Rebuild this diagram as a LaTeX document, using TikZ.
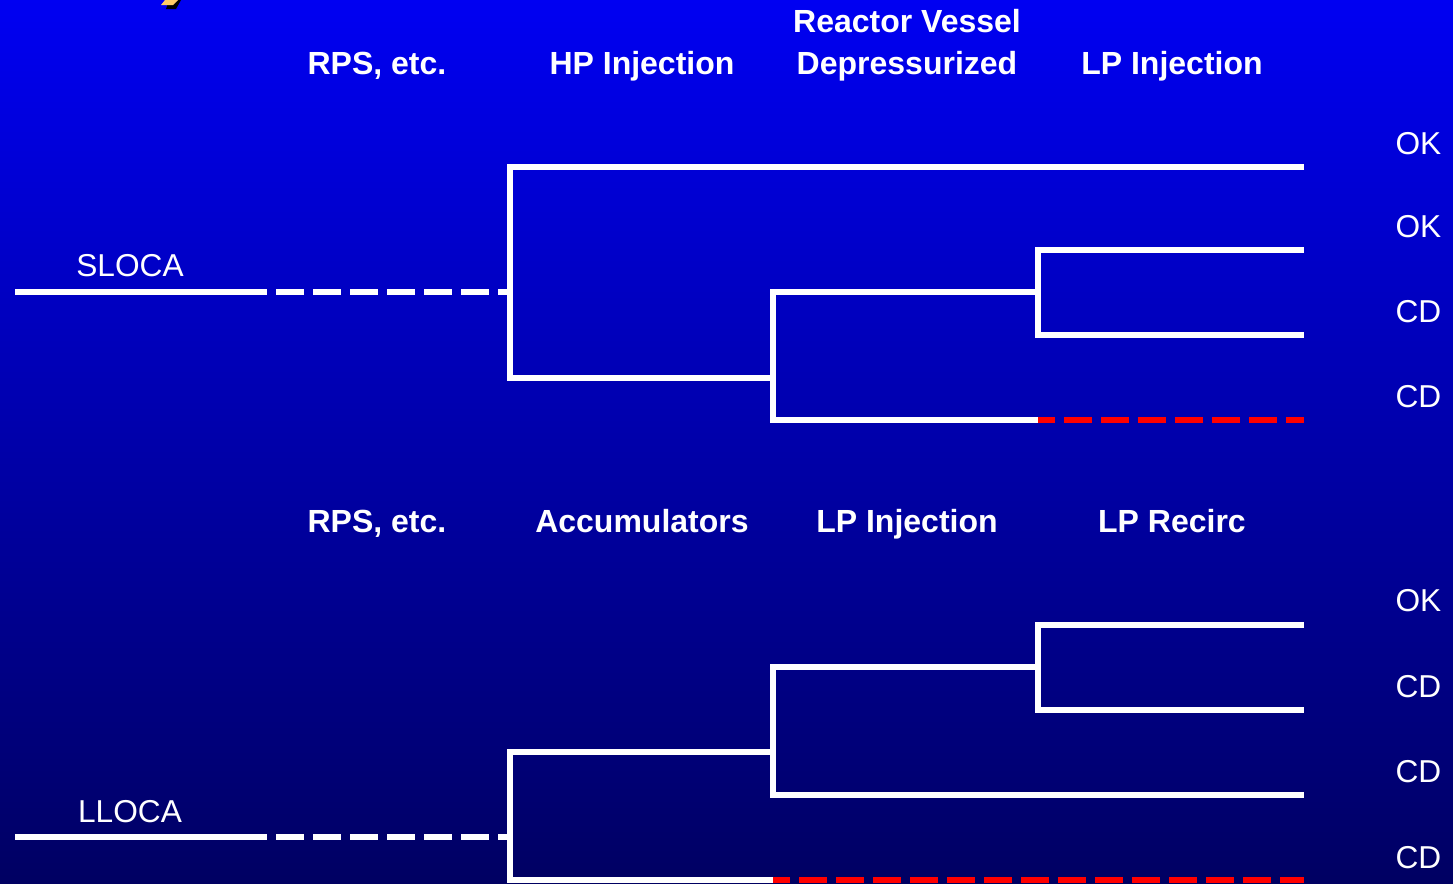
\documentclass[tikz,border=0pt]{standalone}
\usepackage{fontspec}
\setmainfont{Liberation Sans}
\usepackage{xcolor}
\usepackage{tikz}
\definecolor{treetop}{RGB}{0,0,242}
\definecolor{treemid}{RGB}{0,0,190}
\definecolor{treebot}{RGB}{0,0,98}
\definecolor{treered}{RGB}{255,0,0}
\definecolor{titlegold}{RGB}{255,204,102}

\begin{document}
\begin{tikzpicture}[x=0.01cm, y=-0.01cm,
  branch/.style={line width=1.7pt, white},
  lost/.style={branch, dash pattern=on 0.28cm off 0.09cm, dash phase=0.28cm},
  faildash/.style={branch, treered, dash pattern=on 0.28cm off 0.09cm, dash phase=0.11cm},
  head/.style={white, inner sep=0pt, anchor=base, align=center,
    font=\fontsize{9.1}{11.9}\selectfont\bfseries},
  init/.style={white, inner sep=0pt, anchor=base, font=\fontsize{9}{11}\selectfont},
  endst/.style={white, inner sep=0pt, anchor=east, font=\fontsize{9}{11}\selectfont}]
  \useasboundingbox (0,0) rectangle (1453,884);
  \shade[top color=treetop, middle color=treemid, bottom color=treebot] (0,0) rectangle (1453,884);
  % bit of the title, cut off at the top
  \fill[black] (169,0) -- (181,0) -- (176,9) -- (166,9) -- cycle;
  \fill[titlegold] (165,0) -- (178,0) -- (173,5) -- (161,5) -- cycle;

  % small LOCA
  \node[head] (h1) at (377,74) {RPS, etc.};
  \node[head] (h2) at (642,74) {HP Injection};
  \node[head] (h3) at (907,74) {Reactor Vessel\\Depressurized};
  \node[head] (h4) at (1172,74) {LP Injection};
  \node[init] (sl) at (130,276) {SLOCA};
  \foreach \y/\t [count=\i] in {144/OK,227/OK,312/CD,397/CD}
    \node[endst] (s\i) at (1442,\y) {\t};

  \coordinate (sI) at (15,292);
  \coordinate (sJ) at (267,292);
  \coordinate (sA) at (510,167);
  \coordinate (sB) at (510,378);
  \coordinate (sC) at (773,292);
  \coordinate (sD) at (773,420);
  \coordinate (sE) at (1038,250);
  \coordinate (sF) at (1038,335);
  \foreach \y [count=\i] in {167,250,335,420}
    \coordinate (sE\i) at (1304,\y);

  \draw[branch] (sI) -- (sJ);
  \draw[lost] (sJ) -- (sJ -| sA);
  \draw[branch] (sE1) -- (sA) -- (sB) -- (sB -| sC);
  \draw[branch] (sC -| sE) -- (sC) -- (sD) -- (sD -| sE);
  \draw[branch] (sE2) -- (sE) -- (sF) -- (sE3);
  % RV not depressurized
  \draw[faildash] (sD -| sE) -- (sE4);

  % large LOCA
  \node[head] (g1) at (377,532) {RPS, etc.};
  \node[head] (g2) at (642,532) {Accumulators};
  \node[head] (g3) at (907,532) {LP Injection};
  \node[head] (g4) at (1172,532) {LP Recirc};
  \node[init] (ll) at (130,822) {LLOCA};
  \foreach \y/\t [count=\i] in {601/OK,687/CD,772/CD,858/CD}
    \node[endst] (l\i) at (1442,\y) {\t};

  \coordinate (lI) at (15,837);
  \coordinate (lJ) at (267,837);
  \coordinate (lA) at (510,752);
  \coordinate (lB) at (510,880);
  \coordinate (lC) at (773,667);
  \coordinate (lD) at (773,795);
  \coordinate (lE) at (1038,625);
  \coordinate (lF) at (1038,710);
  \foreach \y [count=\i] in {625,710,795,880}
    \coordinate (lE\i) at (1304,\y);

  \draw[branch] (lI) -- (lJ);
  \draw[lost] (lJ) -- (lJ -| lA);
  \draw[branch] (lA -| lC) -- (lA) -- (lB) -- (lB -| lC);
  \draw[branch] (lC -| lE) -- (lC) -- (lD) -- (lE3);
  \draw[branch] (lE1) -- (lE) -- (lF) -- (lE2);
  % accumulators fail
  \draw[faildash] (lB -| lC) -- (lE4);
\end{tikzpicture}
\end{document}
